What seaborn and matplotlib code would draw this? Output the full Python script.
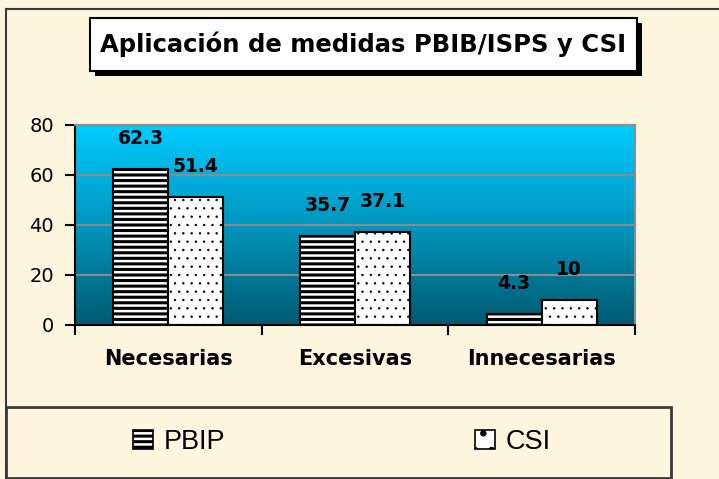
import numpy as np
import pandas as pd
import matplotlib
matplotlib.use("Agg")
import matplotlib.pyplot as plt
import seaborn as sns
from matplotlib.patches import Rectangle
from matplotlib.colors import LinearSegmentedColormap

# datos
categorias = ["Necesarias", "Excesivas", "Innecesarias"]
series = ["PBIP", "CSI"]
pbip = [62.3, 35.7, 4.3]
csi = [51.4, 37.1, 10]
yticks = [0, 20, 40, 60, 80]
titulo = "Aplicación de medidas PBIB/ISPS y CSI"

df = pd.DataFrame({
    "categoria": categorias * 2,
    "valor": pbip + csi,
    "serie": [series[0]] * 3 + [series[1]] * 3,
})

sns.set_style("white")
plt.rcParams["font.family"] = ["DejaVu Sans"]
plt.rcParams["hatch.linewidth"] = 2.2
for k in ["text.color", "xtick.color", "ytick.color", "axes.labelcolor"]:
    plt.rcParams[k] = "black"

crema = "#FDF5DE"
W, H = 719, 479
def fx(px):
    return px / W
def fy(py):
    return 1 - py / H

fig = plt.figure(figsize=(W / 100, H / 100), dpi=100, facecolor=crema)
ax = fig.add_axes([fx(75), fy(325), fx(635) - fx(75), fy(125) - fy(325)])

sns.barplot(data=df, x="categoria", y="valor", hue="serie", palette=["white", "white"],
            edgecolor="black", linewidth=1.5, width=0.59, ax=ax, legend=False)

hatches = ["---", ".."]
hatch_lw = [2.2, 0.5]
for cont, h, hl in zip(ax.containers, hatches, hatch_lw):
    for bar in cont:
        bar.set_hatch(h)
        if hasattr(bar, "set_hatch_linewidth"):
            bar.set_hatch_linewidth(hl)
    ax.bar_label(cont, labels=[f"{v:g}" for v in cont.datavalues], padding=15,
                 fontsize=13.5, fontweight="bold")

# fondo degradado del area de trazado
grad = LinearSegmentedColormap.from_list("fondo", ["#005A70", "#0096BE", "#00CCFF"])
ax.imshow(np.linspace(1, 0, 256).reshape(-1, 1), cmap=grad, aspect="auto",
          extent=[-0.5, 2.5, 0, 80], zorder=0)

ax.set_xlim(-0.5, 2.5)
ax.set_ylim(0, 80)
ax.set_yticks(yticks)
ax.set_xticks(range(len(categorias)))
ax.set_xticklabels(categorias, fontsize=15, fontweight="bold")
ax.set_xticks([-0.5, 0.5, 1.5, 2.5], minor=True)
ax.set_xlabel("")
ax.set_ylabel("")
ax.set_axisbelow(True)
ax.yaxis.grid(True, color="#8C8C8C", lw=1.5)

ax.tick_params(axis="y", left=True, direction="out", length=7, width=1.5, labelsize=14, pad=8)
ax.tick_params(axis="x", which="major", bottom=True, length=0, pad=17)
ax.tick_params(axis="x", which="minor", bottom=True, direction="out", length=7, width=1.5)

for s in ["left", "bottom"]:
    ax.spines[s].set_color("black")
    ax.spines[s].set_linewidth(1.5)
for s in ["top", "right"]:
    ax.spines[s].set_color("#8C8C8C")
    ax.spines[s].set_linewidth(1.5)

# marco exterior
fig.patches.append(Rectangle((fx(6), fy(490)), fx(730) - fx(6), fy(9) - fy(490),
                             transform=fig.transFigure, fill=False, ec="#3A3A3A", lw=1.5))

# titulo con sombra
fig.patches.append(Rectangle((fx(95), fy(76)), fx(642) - fx(95), fy(23) - fy(76),
                             transform=fig.transFigure, fc="black", ec="black", lw=0))
fig.patches.append(Rectangle((fx(90), fy(71)), fx(637) - fx(90), fy(18) - fy(71),
                             transform=fig.transFigure, fc="white", ec="black", lw=1.5))
fig.text(fx(363), fy(44.5), titulo, ha="center", va="center", fontsize=17.5, fontweight="bold")

# leyenda
fig.patches.append(Rectangle((fx(6), fy(478)), fx(671) - fx(6), fy(407) - fy(478),
                             transform=fig.transFigure, fill=False, ec="#3A3A3A", lw=2))
handles = [Rectangle((0, 0), 1, 1, fc="white", ec="black", lw=1.2, hatch=h)
           for h in ["---", "."]]
for hd, hl in zip(handles, hatch_lw):
    if hasattr(hd, "set_hatch_linewidth"):
        hd.set_hatch_linewidth(hl)
fig.legend(handles, series, loc="center", bbox_to_anchor=(fx(342), fy(442)), ncol=2,
           frameon=False, prop={"family": "Liberation Sans", "size": 19.5},
           handlelength=0.74, handleheight=0.74, handletextpad=0.4, columnspacing=9.2)

fig.savefig("out.png", dpi=100, facecolor=crema)
